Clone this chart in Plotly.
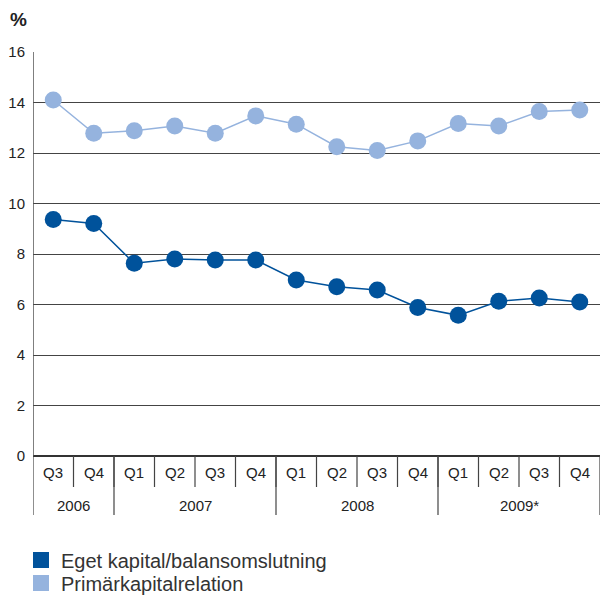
import plotly.graph_objects as go

quarters = ["Q3", "Q4", "Q1", "Q2", "Q3", "Q4", "Q1", "Q2", "Q3", "Q4", "Q1", "Q2", "Q3", "Q4"]
years = ["2006", "2007", "2008", "2009*"]
year_counts = [2, 4, 4, 4]
eget_kapital = [9.37, 9.21, 7.63, 7.8, 7.76, 7.76, 6.97, 6.7, 6.57, 5.88, 5.57, 6.13, 6.26, 6.1]
primarkapital = [14.1, 12.78, 12.88, 13.07, 12.78, 13.47, 13.14, 12.25, 12.1, 12.48, 13.17, 13.07, 13.64, 13.7]
y_ticks = [0, 2, 4, 6, 8, 10, 12, 14, 16]

DARK = "#00529b"
LIGHT = "#95b3de"
FONT = "Liberation Sans"
TXT = "#222222"

x = list(range(len(quarters)))
fig = go.Figure()
fig.add_trace(go.Scatter(x=x, y=primarkapital, mode="lines+markers", showlegend=False,
                         line=dict(color=LIGHT, width=1.5), marker=dict(color=LIGHT, size=17)))
fig.add_trace(go.Scatter(x=x, y=eget_kapital, mode="lines+markers", showlegend=False,
                         line=dict(color=DARK, width=1.5), marker=dict(color=DARK, size=17)))
# legend entries
fig.add_trace(go.Scatter(x=[None], y=[None], mode="markers", name="Eget kapital/balansomslutning",
                         marker=dict(color=DARK, size=17, symbol="square"), legend="legend"))
fig.add_trace(go.Scatter(x=[None], y=[None], mode="markers", name="Primärkapitalrelation",
                         marker=dict(color=LIGHT, size=17, symbol="square"), legend="legend2"))

shapes = []
annotations = []
n = len(quarters)
for i in range(n - 1):
    shapes.append(dict(type="line", xref="x", yref="paper", ysizemode="pixel", yanchor=0,
                       x0=i + 0.5, x1=i + 0.5, y0=0, y1=-31, line=dict(color="#444", width=1.2)))
edges = [-0.5]
for c in year_counts:
    edges.append(edges[-1] + c)
for e in edges:
    shapes.append(dict(type="line", xref="x", yref="paper", ysizemode="pixel", yanchor=0,
                       x0=e, x1=e, y0=0, y1=-59, line=dict(color="#444", width=1.2)))
shapes.append(dict(type="line", xref="x", yref="paper", x0=-0.5, x1=-0.5, y0=0, y1=1,
                   line=dict(color="#555", width=1.5)))
for i, q in enumerate(quarters):
    annotations.append(dict(x=i, y=0, xref="x", yref="paper", yshift=-16, text=q, showarrow=False,
                            yanchor="middle", font=dict(family=FONT, size=15, color=TXT)))
for k, yr in enumerate(years):
    annotations.append(dict(x=(edges[k] + edges[k + 1]) / 2, y=0, xref="x", yref="paper", yshift=-49,
                            text=yr, showarrow=False, yanchor="middle",
                            font=dict(family=FONT, size=15, color=TXT)))
annotations.append(dict(x=-25 / 567, y=1 + 32 / 404, xref="paper", yref="paper", text="<b>%</b>",
                        showarrow=False, xanchor="left", yanchor="middle",
                        font=dict(family=FONT, size=19, color=TXT)))

leg_common = dict(xref="container", yref="container", x=21 / 601, xanchor="left", yanchor="middle",
                  font=dict(family=FONT, size=20, color="#333"), itemwidth=30,
                  bgcolor="rgba(0,0,0,0)")

fig.update_layout(
    width=601, height=597,
    margin=dict(l=33, r=1, t=52, b=141, autoexpand=False),
    paper_bgcolor="white", plot_bgcolor="white",
    xaxis=dict(range=[-0.5, n - 0.5], showgrid=False, zeroline=False, showticklabels=False,
               showline=False, fixedrange=True),
    yaxis=dict(range=[0, 16], tickvals=y_ticks, showgrid=True, gridcolor="#444", gridwidth=1,
               zeroline=True, zerolinecolor="#333", zerolinewidth=1.5, showline=False,
               ticks="", ticklabelstandoff=7,
               tickfont=dict(family=FONT, size=15, color=TXT)),
    shapes=shapes,
    annotations=annotations,
    showlegend=True,
    legend=dict(y=1 - 560 / 597, **leg_common),
    legend2=dict(y=1 - 583 / 597, **leg_common),
)
fig.write_html("out.html")
